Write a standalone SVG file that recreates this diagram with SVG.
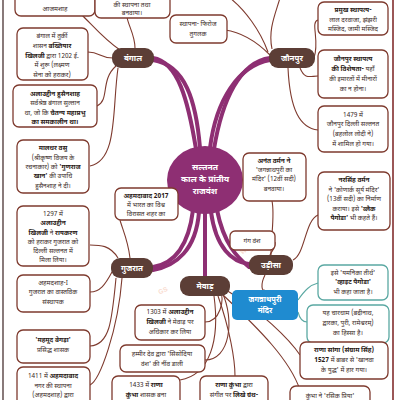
<svg xmlns="http://www.w3.org/2000/svg" width="400" height="400" viewBox="0 0 400 400">
<style>
text{font-family:"Noto Sans Devanagari","Lohit Devanagari","Noto Sans","DejaVu Sans",sans-serif;font-size:6.5px;fill:#3a2a26;text-anchor:middle}
.b{font-weight:bold;fill:#2a1a16}
.box rect{fill:#fff;stroke:#7e3a2e;stroke-width:1.3}
.tb rect{fill:#fff;stroke:#5aa8a2;stroke-width:1.3}
.pill rect{fill:#5c3e36}
.pill text{fill:#fff;font-size:8px;font-weight:bold}
.con path{fill:none;stroke:#7e3a2e;stroke-width:1.1}
.tc path{fill:none;stroke:#5aa8a2;stroke-width:1.1}
.main path{fill:none;stroke:#8e2f73;stroke-width:4;stroke-linecap:round}
.wm{fill:#f2a888;opacity:.4;font-family:"Liberation Sans",sans-serif;font-weight:bold}
</style>
<rect width="400" height="400" fill="#fff"/>
<g id="watermark">
<text class="wm" x="130" y="300" font-size="210" transform="rotate(-25 130 220)">GS</text>
<text class="wm" x="250" y="250" font-size="40" transform="rotate(-30 250 250)">World</text>
</g>
<line x1="3" y1="0" x2="3" y2="400" stroke="#3a2020" stroke-width="1.2"/>
<line x1="393" y1="0" x2="393" y2="400" stroke="#7a1f1f" stroke-width="1.5"/>
<g id="connectors">
<g class="main">
<path d="M196,149 C188,100 178,62 153,58"/>
<path d="M200,148 C196,100 185,65 153,60"/>
<path d="M214,149 C222,100 240,62 270,58"/>
<path d="M210,148 C216,100 238,66 270,60"/>
<path d="M193,210 C188,250 172,264 153,267"/>
<path d="M199,212 C196,250 176,266 153,270"/>
<path d="M205,213 L205,276"/>
<path d="M211,212 C216,248 232,262 249,264"/>
<path d="M217,210 C224,245 238,258 249,267"/>
</g>
<g class="con">
<path d="M113,58 C100,58 100,52 88,52"/>
<path d="M116,66 C100,80 110,100 97,106"/>
<path d="M118,68 C112,110 118,160 90,166"/>
<path d="M120,50 C105,40 95,28 82,15"/>
<path d="M135,48 C135,35 128,25 127,17"/>
<path d="M268,52 C260,30 245,10 230,-2"/>
<path d="M272,49 C268,30 275,15 280,-2"/>
<path d="M270,55 C255,40 240,32 225,30"/>
<path d="M314,58 C320,40 310,22 318,20"/>
<path d="M300,68 C305,80 310,76 318,76"/>
<path d="M288,68 C290,110 300,128 318,130"/>
<path d="M118,258 C110,245 100,245 90,245"/>
<path d="M112,272 C105,285 100,292 90,292"/>
<path d="M116,278 C112,320 110,345 90,346"/>
<path d="M122,278 C118,330 100,380 90,385"/>
<path d="M130,258 C128,240 122,228 120,220"/>
<path d="M271,255 C271,235 275,215 272,201"/>
<path d="M293,260 C305,255 305,220 318,215"/>
<path d="M270,255 C272,250 276,248 275,242"/>
<path d="M265,275 C260,285 262,292 265,290"/>
<path d="M220,290 C225,300 220,322 205,322"/>
<path d="M222,292 C235,320 230,360 205,360"/>
<path d="M214,296 C220,340 210,375 180,380"/>
<path d="M218,296 C230,330 235,360 235,376"/>
<path d="M222,294 C260,330 290,360 300,390"/>
<path d="M226,290 C260,310 290,340 300,355"/>
</g>
<g class="tc">
<path d="M298,300 C305,290 310,285 318,283"/>
<path d="M298,312 C300,320 303,322 307,322"/>
</g>
</g>
<g id="center">
<ellipse cx="205" cy="180" rx="38" ry="34" fill="#8e2f73"/>
<text x="205" y="170" style="fill:#fff;font-size:8.5px;font-weight:bold">सल्तनत</text>
<text x="205" y="182" style="fill:#fff;font-size:8.5px;font-weight:bold">काल के प्रांतीय</text>
<text x="205" y="194" style="fill:#fff;font-size:8.5px;font-weight:bold">राजवंश</text>
</g>
<g id="bangal" class="pill"><rect x="112" y="48" width="42" height="20" rx="9"/><text x="133" y="61">बंगाल</text></g>
<g id="jaunpur" class="pill"><rect x="269" y="48" width="46" height="20" rx="9"/><text x="292" y="61">जौनपुर</text></g>
<g id="gujarat" class="pill"><rect x="111" y="258" width="42" height="20" rx="9"/><text x="132" y="271">गुजरात</text></g>
<g id="odisha" class="pill"><rect x="249" y="255" width="44" height="20" rx="9"/><text x="271" y="268">उड़ीसा</text></g>
<g id="mewar" class="pill"><rect x="180" y="276" width="50" height="20" rx="9"/><text x="205" y="289">मेवाड़</text></g>
<g id="n-azamshah" class="box"><rect x="15" y="-10" width="80" height="26" rx="6"/><text x="55" y="11">आजमशाह</text></g>
<g id="n-top2" class="box"><rect x="95" y="-10" width="75" height="28" rx="6"/><text x="132" y="7">की स्थापना तथा</text><text x="132" y="15">बनवाया।</text></g>
<g id="n-firoz" class="box"><rect x="170" y="15" width="57" height="28" rx="6"/><text x="198" y="26">स्थापना- फिरोज</text><text x="198" y="36">तुगलक</text></g>
<g id="n-sthapatya" class="box"><rect x="318" y="2" width="70" height="33" rx="6"/><text x="353" y="12" class="b">प्रमुख स्थापत्य-</text><text x="353" y="22">लाल दरवाजा, झंझरी</text><text x="353" y="31">मस्जिद, जामी मस्जिद</text></g>
<g id="n-visheshta" class="box"><rect x="318" y="50" width="70" height="48" rx="6"/><text x="353" y="61" class="b">जौनपुर स्थापत्य</text><text x="353" y="71"><tspan class="b">की विशेषता-</tspan> यहाँ</text><text x="353" y="81">की इमारतों में मीनारों</text><text x="353" y="91">का न होना।</text></g>
<g id="n-1479" class="box"><rect x="318" y="106" width="70" height="46" rx="6"/><text x="353" y="117">1479 में</text><text x="353" y="126">जौनपुर दिल्ली सल्तनत</text><text x="353" y="136">(बहलोल लोदी ने)</text><text x="353" y="146">में शामिल हो गया।</text></g>
<g id="n-bakhtiyar" class="box"><rect x="17" y="28" width="71" height="52" rx="6"/><text x="52" y="38">बंगाल में तुर्की</text><text x="52" y="48">शासन <tspan class="b">बख्तियार</tspan></text><text x="52" y="58"><tspan class="b">खिलजी</tspan> द्वारा 1202 ई.</text><text x="52" y="67">में शुरू (लक्ष्मण</text><text x="52" y="77">सेना को हराकर)</text></g>
<g id="n-husainshah" class="box"><rect x="13" y="85" width="84" height="42" rx="6"/><text x="55" y="96" class="b">अलाउद्दीन हुसैनशाह</text><text x="55" y="105">सर्वश्रेष्ठ बंगाल सुल्तान</text><text x="55" y="115">था, जो कि <tspan class="b">चैतन्य महाप्रभु</tspan></text><text x="55" y="124" class="b">का समकालीन था।</text></g>
<g id="n-maldhar" class="box"><rect x="17" y="140" width="72" height="53" rx="6"/><text x="53" y="150" class="b">मालधर वसु</text><text x="53" y="160">(श्रीकृष्ण विजय के</text><text x="53" y="169">रचनाकार) को <tspan class="b">'गुणराज</tspan></text><text x="53" y="178"><tspan class="b">खान'</tspan> की उपाधि</text><text x="53" y="188">हुसैनशाह ने दी।</text></g>
<g id="n-ahmedabad2017" class="box"><rect x="115" y="188" width="63" height="32" rx="6"/><text x="146" y="198" class="b">अहमदाबाद 2017</text><text x="146" y="207">में भारत का विश्व</text><text x="146" y="216">विरासत शहर का</text></g>
<g id="n-anant" class="box"><rect x="243" y="153" width="63" height="48" rx="6"/><text x="274" y="163" class="b">अनंत वर्मन ने</text><text x="274" y="172">'जगन्नाथपुरी का</text><text x="274" y="181">मंदिर' (12वीं सदी)</text><text x="274" y="191">बनवाया।</text></g>
<g id="n-narsingh" class="box"><rect x="318" y="172" width="72" height="58" rx="6"/><text x="354" y="182" class="b">नरसिंह वर्मन</text><text x="354" y="192">ने 'कोणार्क सूर्य मंदिर'</text><text x="354" y="201">(13वीं सदी) का निर्माण</text><text x="354" y="211">कराया। इसे <tspan class="b">'ब्लैक</tspan></text><text x="354" y="220"><tspan class="b">पैगोडा'</tspan> भी कहते हैं।</text></g>
<g id="n-gang" class="box"><rect x="230" y="231" width="45" height="19" rx="5"/><text x="252" y="243">गंग वंश</text></g>
<g id="n-1297" class="box"><rect x="17" y="206" width="72" height="60" rx="6"/><text x="53" y="216">1297 में</text><text x="53" y="225" class="b">अलाउद्दीन</text><text x="53" y="235"><tspan class="b">खिलजी</tspan> ने <tspan class="b">रायकरण</tspan></text><text x="53" y="244">को हराकर गुजरात को</text><text x="53" y="253">दिल्ली सल्तनत में</text><text x="53" y="262">मिला लिया।</text></g>
<g id="n-jagannath" ><rect x="232" y="290" width="66" height="30" rx="5" fill="#1f8bd0"/><text x="265" y="302" style="fill:#fff;font-weight:bold;font-size:7.5px">जगन्नाथपुरी</text><text x="265" y="313" style="fill:#fff;font-weight:bold;font-size:7.5px">मंदिर</text></g>
<g id="n-white" class="tb"><rect x="318" y="265" width="70" height="35" rx="6"/><text x="353" y="275">इसे 'यमनिका तीर्थ'</text><text x="353" y="284" class="b">'व्हाइट पैगोडा'</text><text x="353" y="294">भी कहा जाता है।</text></g>
<g id="n-chardham" class="tb"><rect x="307" y="305" width="82" height="38" rx="6"/><text x="348" y="315">यह चारधाम (बद्रीनाथ,</text><text x="348" y="325">द्वारका, पुरी, रामेश्वरम्)</text><text x="348" y="335">का हिस्सा है।</text></g>
<g id="n-ahmadshah" class="box"><rect x="17" y="275" width="73" height="37" rx="6"/><text x="53" y="285">अहमदशाह-I</text><text x="53" y="294">गुजरात का वास्तविक</text><text x="53" y="304">संस्थापक</text></g>
<g id="n-1303" class="box"><rect x="135" y="305" width="70" height="35" rx="6"/><text x="170" y="314">1303 में <tspan class="b">अलाउद्दीन</tspan></text><text x="170" y="324"><tspan class="b">खिलजी</tspan> ने मेवाड़ पर</text><text x="170" y="334">अधिकार कर लिया</text></g>
<g id="n-begda" class="box"><rect x="17" y="330" width="73" height="33" rx="6"/><text x="53" y="342" class="b">'महमूद बेगड़ा'</text><text x="53" y="352">प्रसिद्ध शासक</text></g>
<g id="n-hammir" class="box"><rect x="120" y="345" width="85" height="27" rx="6"/><text x="162" y="356">हम्मीर देव द्वारा 'सिसोदिया</text><text x="162" y="366">वंश' की नींव डाली</text></g>
<g id="n-sanga" class="box"><rect x="300" y="342" width="88" height="37" rx="6"/><text x="344" y="352" class="b">राणा सांगा (संग्राम सिंह)</text><text x="344" y="362"><tspan class="b">1527</tspan> में बाबर से 'खानवा</text><text x="344" y="372">के युद्ध' में हार गया।</text></g>
<g id="n-1411" class="box"><rect x="17" y="367" width="73" height="45" rx="6"/><text x="53" y="378">1411 में <tspan class="b">अहमदाबाद</tspan></text><text x="53" y="388">नगर की स्थापना</text><text x="53" y="397">(अहमदशाह) द्वारा</text></g>
<g id="n-1433" class="box"><rect x="112" y="376" width="68" height="35" rx="6"/><text x="146" y="387">1433 में <tspan class="b">राणा</tspan></text><text x="146" y="397"><tspan class="b">कुंभा</tspan> शासक बना</text></g>
<g id="n-kumbha" class="box"><rect x="200" y="376" width="68" height="35" rx="6"/><text x="234" y="387" class="b">राणा कुंभा <tspan style="font-weight:normal">द्वारा</tspan></text><text x="234" y="397">संगीत पर <tspan class="b">लिखे ग्रंथ-</tspan></text></g>
<g id="n-rasik" class="box"><rect x="290" y="386" width="80" height="25" rx="6"/><text x="330" y="398">कुंभा ने 'रसिक प्रिया'</text></g>
</svg>
